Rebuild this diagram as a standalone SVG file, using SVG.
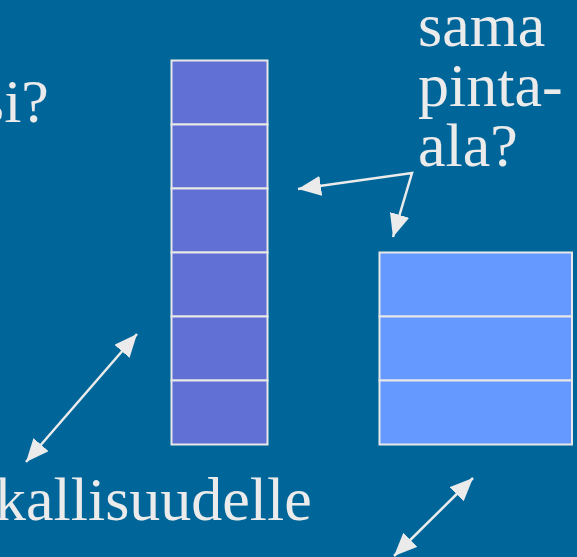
<svg xmlns="http://www.w3.org/2000/svg" width="577" height="557" viewBox="0 0 577 557">
  <style>
    .label { font-family: "Liberation Serif", "Times New Roman", serif; font-size: 62px; fill: #ebebeb; }
    .cell { stroke: #e8e8e8; stroke-width: 2; }
    .tall { fill: #6070d4; }
    .wide { fill: #6699ff; }
    .conn { fill: none; stroke: #ebebeb; stroke-width: 2.5; }
  </style>
  <defs>
    <marker id="head" viewBox="0 0 23 20" refX="23" refY="10" markerWidth="23" markerHeight="20" markerUnits="userSpaceOnUse" orient="auto-start-reverse">
      <path d="M0,0 L23,10 L0,20 z" fill="#ebebeb"/>
    </marker>
  </defs>

  <!-- background -->
  <rect x="0" y="0" width="577" height="557" fill="#006699"/>

  <!-- tall column of six cells -->
  <g id="column-tall">
    <rect class="cell tall" x="171.5" y="60.5" width="96" height="64"/>
    <rect class="cell tall" x="171.5" y="124.5" width="96" height="64"/>
    <rect class="cell tall" x="171.5" y="188.5" width="96" height="64"/>
    <rect class="cell tall" x="171.5" y="252.5" width="96" height="64"/>
    <rect class="cell tall" x="171.5" y="316.5" width="96" height="64"/>
    <rect class="cell tall" x="171.5" y="380.5" width="96" height="64"/>
  </g>

  <!-- wide block of three cells -->
  <g id="block-wide">
    <rect class="cell wide" x="379.5" y="252.5" width="192.5" height="64"/>
    <rect class="cell wide" x="379.5" y="316.5" width="192.5" height="64"/>
    <rect class="cell wide" x="379.5" y="380.5" width="192.5" height="64"/>
  </g>

  <!-- labels -->
  <g id="label-question">
    <text class="label" x="-20" y="122">si?</text>
  </g>
  <g id="label-area">
    <text class="label" x="418" y="46">sama</text>
    <text class="label" x="418" y="106">pinta-</text>
    <text class="label" x="418" y="166">ala?</text>
  </g>
  <g id="label-bottom">
    <text class="label" x="-5" y="520">kallisuudelle</text>
  </g>

  <!-- connectors -->
  <g id="connectors">
    <polyline class="conn" points="298,189 412,173 393,237" marker-start="url(#head)" marker-end="url(#head)"/>
    <line class="conn" x1="137" y1="334" x2="26" y2="462" marker-start="url(#head)" marker-end="url(#head)"/>
    <line class="conn" x1="473" y1="478" x2="394" y2="556" marker-start="url(#head)" marker-end="url(#head)"/>
  </g>
</svg>
